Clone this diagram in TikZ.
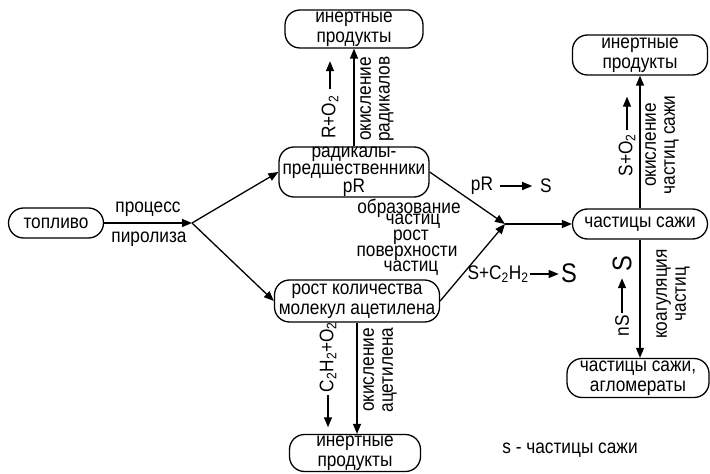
\documentclass[tikz,border=0pt]{standalone}
\usepackage{fontspec}
\setmainfont{Liberation Sans}[FakeStretch=0.88]
\usetikzlibrary{arrows.meta,calc}
\begin{document}
\begin{tikzpicture}[x=1bp,y=-1bp,
  box/.style={draw, line width=1.3bp, rounded corners=15bp, align=center, inner sep=0pt,
    font=\fontsize{19.7}{20}\selectfont},
  arr/.style={line width=1.3bp, -{Triangle[length=10bp,width=8bp]}},
  lbl/.style={inner sep=0pt, align=center, font=\fontsize{19.7}{19}\selectfont},
  big/.style={inner sep=0pt, font=\fontsize{27}{27}\selectfont}]
\useasboundingbox (0,0) rectangle (710,474);
% boxes
\node[box, minimum width=95bp, minimum height=30bp] (fuel) at (56,223) {топливо};
\node[box, minimum width=150bp, minimum height=50bp, font=\fontsize{19.7}{16.8}\selectfont] (rad) at (354,172) {радикалы-\\предшественники\\pR};
\node[box, minimum width=165bp, minimum height=42bp] (ac) at (357,301) {рост количества\\молекул ацетилена};
\node[box, minimum width=138bp, minimum height=38bp] (in1) at (354,29) {инертные\\продукты};
\node[box, minimum width=131bp, minimum height=37bp] (in2) at (355,453) {инертные\\продукты};
\node[box, minimum width=135bp, minimum height=30bp] (soot) at (640,224) {частицы сажи};
\node[box, minimum width=135bp, minimum height=40bp] (in3) at (640,55) {инертные\\продукты};
\node[box, minimum width=142bp, minimum height=39bp] (agg) at (638,378) {частицы сажи,\\агломераты};
% junctions
\coordinate (sp) at (192,223);
\coordinate (m) at (505,224);
% connectors
\draw[arr] (fuel) -- (sp);
\draw[arr] (sp) -- (rad.west);
\draw[arr] (sp) -- (ac.west);
\draw[arr] (rad.east) -- (m);
\draw[arr] (ac.east) -- (m);
\draw[arr] (m) -- (soot.west);
\draw[arr] (rad.north) -- (in1.south);
\draw[arr] (ac.south) -- (ac.south |- in2.north);
\draw[arr] (soot.north) -- (in3.south);
\draw[arr] (soot.south) -- (soot.south |- agg.north);
% horizontal labels
\node[lbl] (t1) at (148,209) {процесс};
\node[lbl] (t2) at (149,239) {пиролиза};
\node[lbl] (m1) at (409,208) {образование};
\node[lbl] (m2) at (413,221) {частиц};
\node[lbl] (m3) at (411,237) {рост};
\node[lbl] (m4) at (407,253) {поверхности};
\node[lbl] (m5) at (411,268) {частиц};
\node[lbl] (pr) at (482,186) {pR};
\draw[arr] ($(pr.east)+(7,0)$) -- ++(32,0);
\node[lbl] (prs) at (546,186) {S};
\node[lbl] (sc) at (498,274) {S+C\textsubscript{2}H\textsubscript{2}};
\draw[arr] ($(sc.east)+(1,0)$) -- ++(29,0);
\node[big] (scs) at (569,273) {S};
\node[lbl] (leg) at (570,450) {s - частицы сажи};
% rotated labels
\node[lbl, rotate=90] (l1) at (330,117) {R+O\textsubscript{2}};
\draw[arr] ($(l1.east)+(0,-6)$) -- ++(0,-28);
\node[lbl, rotate=90] (l2) at (377,99) {окисление\\радикалов};
\node[lbl, rotate=90] (l3) at (328,357) {C\textsubscript{2}H\textsubscript{2}+O\textsubscript{2}};
\draw[arr] ($(l3.west)+(0,3)$) -- ++(0,32);
\node[lbl, rotate=90] (l4) at (380,370) {окисление\\ацетилена};
\node[lbl, rotate=90] (l5) at (627,155) {S+O\textsubscript{2}};
\draw[arr] ($(l5.east)+(0,-4)$) -- ++(0,-33);
\node[lbl, rotate=90] (l6) at (662,145) {окисление\\частиц сажи};
\node[lbl, rotate=90] (l7) at (622,326) {nS};
\draw[arr] ($(l7.east)+(0,-2)$) -- ++(0,-35);
\node[big, rotate=90] (l7s) at (622,264) {S};
\node[lbl, rotate=90] (l8) at (673,294) {коагуляция\\частиц};
\end{tikzpicture}
\end{document}
